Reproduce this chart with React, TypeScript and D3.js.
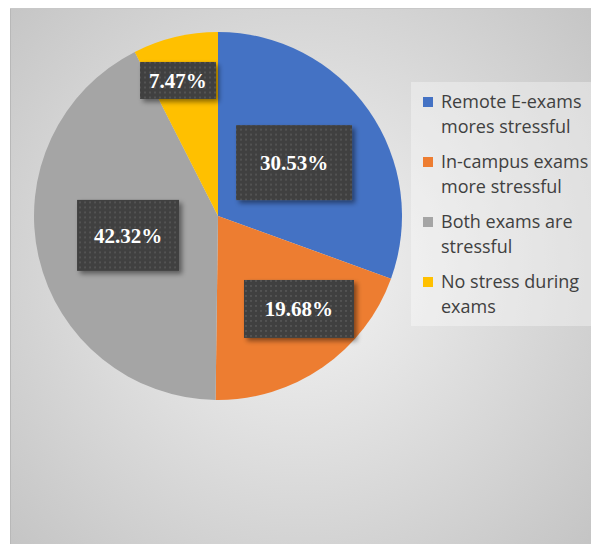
import React, { useEffect, useRef } from 'react';
import * as d3 from 'd3';

const categories = [
  'Remote E-exams mores stressful',
  'In-campus exams more stressful',
  'Both exams are stressful',
  'No stress during exams',
];
const values = [30.53, 19.68, 42.32, 7.47];
const labels = ['30.53%', '19.68%', '42.32%', '7.47%'];
const colors = ['#4472c4', '#ed7d31', '#a5a5a5', '#ffc000'];
// legend text lines as wrapped in the original
const legendLines = [
  ['Remote E-exams', 'mores stressful'],
  ['In-campus exams', 'more stressful'],
  ['Both exams are', 'stressful'],
  ['No stress during', 'exams'],
];

// data callout layout: distance from centre (fraction of R), angle shift from slice middle (deg), box size
const calloutRadius = [0.505, 0.67, 0.5, 0.768];
const calloutShift = [0, -6.4, 0.9, -3];
const calloutSize: [number, number][] = [[116, 75], [110, 58], [102, 71], [76, 37]];

const W = 599;
const H = 552;

const App: React.FC = () => {
  const ref = useRef<SVGSVGElement>(null);

  useEffect(() => {
    if (!ref.current) return;
    const svg = d3.select(ref.current);
    svg.selectAll('*').remove();

    const defs = svg.append('defs');
    const grad = defs.append('radialGradient')
      .attr('id', 'bg')
      .attr('gradientUnits', 'userSpaceOnUse')
      .attr('cx', 300).attr('cy', 270).attr('r', 420);
    grad.append('stop').attr('offset', '0%').attr('stop-color', '#f4f4f4');
    grad.append('stop').attr('offset', '100%').attr('stop-color', '#c2c2c2');

    const pat = defs.append('pattern')
      .attr('id', 'dots')
      .attr('patternUnits', 'userSpaceOnUse')
      .attr('width', 5).attr('height', 5);
    pat.append('rect').attr('width', 5).attr('height', 5).attr('fill', '#404040');
    pat.append('rect').attr('x', 1).attr('y', 1).attr('width', 2).attr('height', 2).attr('fill', '#525252');

    const shadow = defs.append('filter').attr('id', 'shadow')
      .attr('x', '-20%').attr('y', '-20%').attr('width', '150%').attr('height', '150%');
    shadow.append('feDropShadow')
      .attr('dx', 3).attr('dy', 3).attr('stdDeviation', 2.5)
      .attr('flood-color', '#000').attr('flood-opacity', 0.45);

    // background frame
    svg.append('rect').attr('width', W).attr('height', H).attr('fill', '#fff');
    svg.append('rect')
      .attr('x', 10).attr('y', 8).attr('width', W - 10).attr('height', H - 8)
      .attr('fill', 'url(#bg)');
    svg.append('line').attr('x1', 10.5).attr('x2', 10.5).attr('y1', 8).attr('y2', H)
      .attr('stroke', '#b8b8b8');
    svg.append('line').attr('x1', 10).attr('x2', W).attr('y1', 8.5).attr('y2', 8.5)
      .attr('stroke', '#c8c8c8');

    const cx = 218;
    const cy = 216;
    const R = 184;

    const pie = d3.pie<number>().sort(null).value(d => d);
    const arcs = pie(values);
    const arc = d3.arc<d3.PieArcDatum<number>>().innerRadius(0).outerRadius(R);

    const g = svg.append('g').attr('transform', `translate(${cx},${cy})`);
    g.selectAll('path.slice')
      .data(arcs)
      .join('path')
      .attr('class', 'slice')
      .attr('d', arc)
      .attr('fill', (d, i) => colors[i]);

    // data callouts
    arcs.forEach((d, i) => {
      const r = R * calloutRadius[i];
      const a = (d.startAngle + d.endAngle) / 2 + (calloutShift[i] * Math.PI) / 180;
      const lx = r * Math.sin(a);
      const ly = -r * Math.cos(a);
      const [bw, bh] = calloutSize[i];
      const lg = g.append('g').attr('transform', `translate(${lx},${ly})`);
      lg.append('rect')
        .attr('x', -bw / 2).attr('y', -bh / 2)
        .attr('width', bw).attr('height', bh)
        .attr('fill', 'url(#dots)')
        .attr('filter', 'url(#shadow)');
      lg.append('text')
        .attr('text-anchor', 'middle')
        .attr('dy', '0.35em')
        .attr('fill', '#fff')
        .attr('font-family', '"Liberation Serif", "Times New Roman", serif')
        .attr('font-weight', 'bold')
        .attr('font-size', 21)
        .text(labels[i]);
    });

    // legend
    svg.append('rect')
      .attr('x', 411).attr('y', 82).attr('width', 188).attr('height', 244)
      .attr('fill', '#ffffff').attr('opacity', 0.35);

    const lgd = svg.append('g').attr('transform', 'translate(423,97)');
    const item = lgd.selectAll('g.item')
      .data(categories)
      .join('g')
      .attr('class', 'item')
      .attr('transform', (d, i) => `translate(0,${i * 60})`);
    item.append('rect')
      .attr('width', 10).attr('height', 10)
      .attr('fill', (d, i) => colors[i]);
    item.each(function (d, i) {
      const t = d3.select(this).append('text')
        .attr('x', 18).attr('y', 10.5)
        .attr('fill', '#404040')
        .attr('font-family', '"Open Sans", Lato, sans-serif')
        .attr('font-size', 18);
      legendLines[i].forEach((line, j) => {
        t.append('tspan').attr('x', 18).attr('dy', j === 0 ? 0 : 25.5).text(line);
      });
    });
  }, []);

  return (
    <svg ref={ref} width={W} height={H} style={{ display: 'block', margin: -8 }} />
  );
};

export default App;
